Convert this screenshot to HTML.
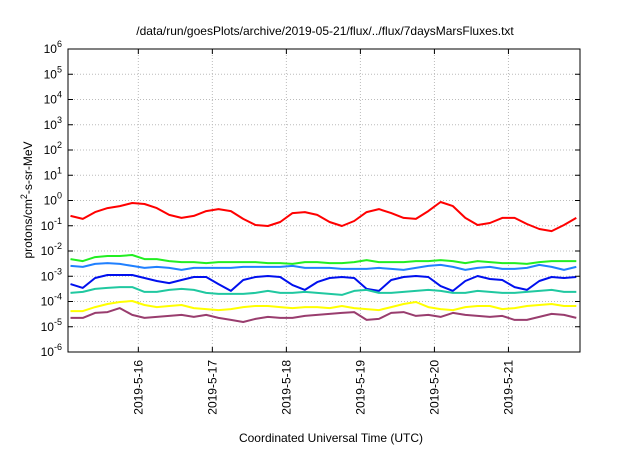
<!DOCTYPE html>
<html><head><meta charset="utf-8"><style>
body{margin:0;background:#fff;width:640px;height:448px;overflow:hidden;font-family:"Liberation Sans",sans-serif}
</style></head><body>
<svg id="chart" width="640" height="448" xmlns="http://www.w3.org/2000/svg" font-family="Liberation Sans, sans-serif">
<text x="325" y="35" font-size="12" text-anchor="middle">/data/run/goesPlots/archive/2019-05-21/flux/../flux/7daysMarsFluxes.txt</text>
<text x="331" y="442" font-size="12" text-anchor="middle">Coordinated Universal Time (UTC)</text>
<text transform="translate(32,200) rotate(-90)" font-size="12" text-anchor="middle">protons/cm<tspan dy="-5" font-size="9">2</tspan><tspan dy="5">-s-sr-MeV</tspan></text>
<g id="grid"></g><g id="series"></g><g id="axes"></g>
</svg>
<script>
const tickDays=[16,17,18,19,20,21];
const tickLabels=["2019-5-16","2019-5-17","2019-5-18","2019-5-19","2019-5-20","2019-5-21"];
const yExps=[6,5,4,3,2,1,0,-1,-2,-3,-4,-5,-6];
// hours since 2019-05-15 00:00, every 4 h
const hours=[];for(let k=0;k<42;k++)hours.push(2+4*k);
const redLog=[-0.61,-0.73,-0.46,-0.30,-0.22,-0.10,-0.14,-0.30,-0.57,-0.69,-0.61,-0.42,-0.34,-0.42,-0.73,-0.97,-1.01,-0.85,-0.50,-0.46,-0.57,-0.85,-1.01,-0.81,-0.46,-0.34,-0.50,-0.69,-0.73,-0.42,-0.06,-0.22,-0.69,-0.97,-0.89,-0.69,-0.69,-0.93,-1.13,-1.21,-0.97,-0.69];
const greenLog=[-2.32,-2.40,-2.24,-2.20,-2.20,-2.16,-2.32,-2.32,-2.40,-2.44,-2.44,-2.48,-2.44,-2.44,-2.44,-2.44,-2.48,-2.48,-2.51,-2.44,-2.44,-2.48,-2.48,-2.44,-2.36,-2.44,-2.44,-2.44,-2.40,-2.40,-2.36,-2.40,-2.48,-2.40,-2.44,-2.48,-2.48,-2.51,-2.44,-2.40,-2.40,-2.40];
const skyLog=[-2.59,-2.63,-2.51,-2.48,-2.51,-2.59,-2.67,-2.63,-2.67,-2.75,-2.67,-2.67,-2.67,-2.67,-2.63,-2.63,-2.63,-2.63,-2.59,-2.67,-2.67,-2.67,-2.71,-2.71,-2.71,-2.67,-2.71,-2.75,-2.67,-2.59,-2.55,-2.63,-2.75,-2.67,-2.63,-2.71,-2.71,-2.67,-2.55,-2.63,-2.75,-2.63];
const blueLog=[-3.31,-3.46,-3.07,-2.95,-2.95,-2.95,-3.07,-3.19,-3.27,-3.15,-3.03,-3.03,-3.31,-3.58,-3.15,-3.03,-2.99,-3.03,-3.35,-3.54,-3.23,-3.07,-3.03,-3.07,-3.50,-3.58,-3.15,-3.03,-2.99,-3.03,-3.39,-3.58,-3.19,-2.99,-3.11,-3.15,-3.43,-3.54,-3.19,-3.03,-3.07,-3.03];
const tealLog=[-3.66,-3.62,-3.50,-3.46,-3.43,-3.43,-3.62,-3.62,-3.54,-3.50,-3.54,-3.66,-3.70,-3.70,-3.70,-3.66,-3.58,-3.66,-3.66,-3.62,-3.66,-3.70,-3.74,-3.58,-3.54,-3.66,-3.66,-3.62,-3.58,-3.54,-3.58,-3.66,-3.66,-3.58,-3.62,-3.66,-3.66,-3.62,-3.58,-3.54,-3.62,-3.62];
const yellowLog=[-4.38,-4.38,-4.22,-4.10,-4.02,-3.98,-4.14,-4.22,-4.18,-4.14,-4.26,-4.30,-4.34,-4.30,-4.22,-4.18,-4.18,-4.22,-4.26,-4.22,-4.22,-4.26,-4.18,-4.26,-4.30,-4.34,-4.22,-4.10,-4.02,-4.22,-4.30,-4.34,-4.22,-4.18,-4.18,-4.30,-4.26,-4.18,-4.14,-4.10,-4.18,-4.18];
const purpleLog=[-4.65,-4.65,-4.45,-4.42,-4.26,-4.53,-4.65,-4.61,-4.57,-4.53,-4.61,-4.53,-4.65,-4.73,-4.81,-4.69,-4.61,-4.65,-4.65,-4.57,-4.53,-4.49,-4.45,-4.42,-4.73,-4.69,-4.45,-4.42,-4.57,-4.53,-4.61,-4.45,-4.53,-4.57,-4.61,-4.57,-4.73,-4.73,-4.61,-4.49,-4.53,-4.65];
const seriesList=[["red-series","#ff0000",redLog],["green-series","#22ee22",greenLog],["skyblue-series","#2080ff",skyLog],["blue-series","#0010ee",blueLog],["teal-series","#20c8a0",tealLog],["yellow-series","#ffff00",yellowLog],["purple-series","#993d6e",purpleLog]];
const L=68,R=580,T=49,B=352,H0=1.2,H1=167.2;
const NS="http://www.w3.org/2000/svg";
function xs(h){return L+(h-H0)/(H1-H0)*(R-L);}
function ys(e){return T+(6-e)/12*(B-T);}
function mk(tag,attrs,parent){const el=document.createElementNS(NS,tag);for(const k in attrs)el.setAttribute(k,attrs[k]);parent.appendChild(el);return el;}
const grid=document.getElementById('grid'),axes=document.getElementById('axes'),ser=document.getElementById('series');
yExps.forEach(e=>{
  const y=ys(e);
  if(e<6&&e>-6){const g=mk('line',{x1:L,x2:R,y1:y,y2:y,stroke:'#bbb','stroke-dasharray':'1,2','stroke-width':1},grid);
  
  }
  const t=mk('text',{x:L-6,y:y+4,'font-size':12,'text-anchor':'end'},axes);
  
  
  t.textContent='10';
  const s=mk('tspan',{dy:-6,'font-size':9},t);s.textContent=String(e);
  mk('line',{x1:L,x2:L+5,y1:y,y2:y,stroke:'#000'},axes);
  mk('line',{x1:R,x2:R-5,y1:y,y2:y,stroke:'#000'},axes);
});
tickDays.forEach((d,i)=>{
  const x=xs((d-15)*24);
  const g=mk('line',{x1:x,x2:x,y1:T,y2:B,stroke:'#bbb','stroke-dasharray':'1,2'},grid);
  
  
  mk('line',{x1:x,x2:x,y1:B,y2:B-5,stroke:'#000'},axes);
  mk('line',{x1:x,x2:x,y1:T,y2:T+5,stroke:'#000'},axes);
  const t=mk('text',{transform:`translate(${x+4},${B+8}) rotate(-90)`,'font-size':12,'text-anchor':'end'},axes);
  
  
  t.textContent=tickLabels[i];
});
const frame=mk('rect',{x:L,y:T,width:R-L,height:B-T,fill:'none',stroke:'#000','stroke-width':1},axes);


seriesList.forEach(([name,col,vals])=>{
  const pts=vals.map((v,i)=>xs(hours[i]).toFixed(1)+','+ys(v).toFixed(1)).join(' ');
  const p=mk('polyline',{points:pts,fill:'none',stroke:col,'stroke-width':2,'stroke-linejoin':'round'},ser);
  
  
});
</script>
</body></html>
